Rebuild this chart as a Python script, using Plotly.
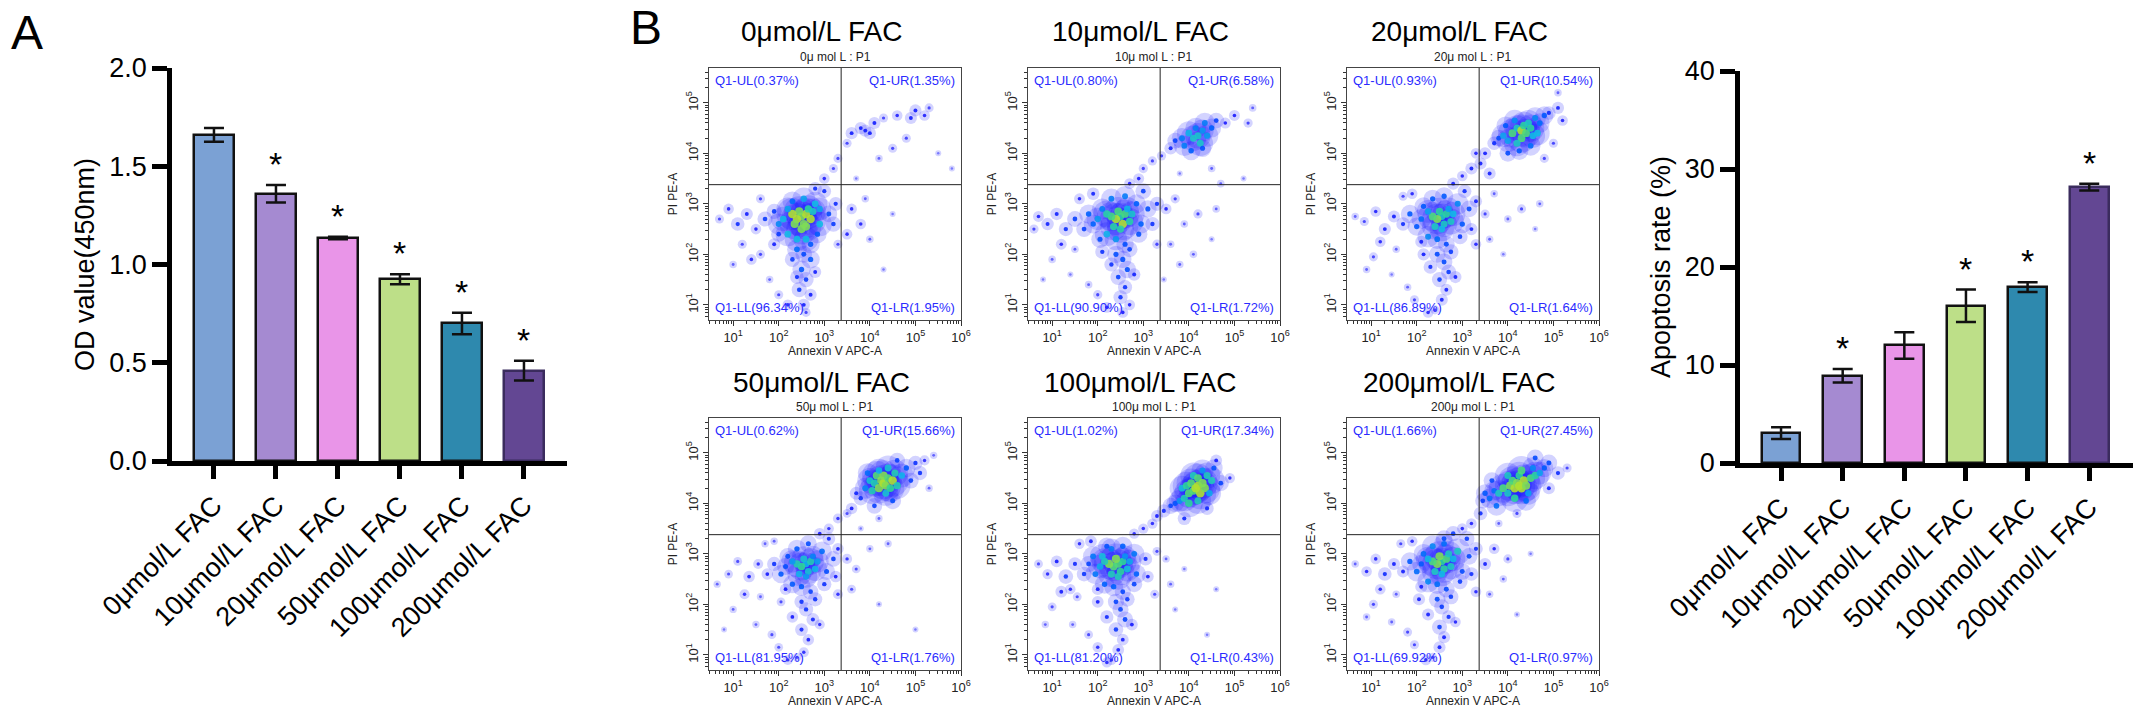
import numpy as np
import plotly.graph_objects as go

W, H = 2151, 710
FONT = "Arial, Liberation Sans, sans-serif"

# %% bar chart data
GROUPS = ["0μmol/L FAC", "10μmol/L FAC", "20μmol/L FAC",
          "50μmol/L FAC", "100μmol/L FAC", "200μmol/L FAC"]
OD_MEAN = [1.66, 1.36, 1.135, 0.925, 0.70, 0.46]
OD_ERR = [0.035, 0.045, 0.006, 0.026, 0.055, 0.05]
OD_SIG = [False, True, True, True, True, True]
APO_MEAN = [3.05, 8.9, 12.0, 16.05, 17.95, 28.15]
APO_ERR = [0.6, 0.68, 1.35, 1.65, 0.5, 0.35]
APO_SIG = [False, True, False, True, True, True]
BAR_COLORS = ["#7ba1d4", "#a58ad1", "#e995e8", "#bddf88", "#2e89ae", "#634793"]
BAR_EDGES = ["#111111", "#111111", "#111111", "#111111", "#111111", "#3b2c5e"]

# %% flow cytometry data (log10 Annexin V, log10 PI)
SUBTITLES = ["0μ mol L : P1", "10μ mol L : P1", "20μ mol L : P1",
             "50μ mol L : P1", "100μ mol L : P1", "200μ mol L : P1"]
Q_UL = ["0.37%", "0.80%", "0.93%", "0.62%", "1.02%", "1.66%"]
Q_UR = ["1.35%", "6.58%", "10.54%", "15.66%", "17.34%", "27.45%"]
Q_LL = ["96.34%", "90.90%", "86.89%", "81.95%", "81.20%", "69.92%"]
Q_LR = ["1.95%", "1.72%", "1.64%", "1.76%", "0.43%", "0.97%"]
GATE_X, GATE_Y = 3.37, 3.38

FLOW_0 = [
    (2.5, 2.75), (2.6, 2.8), (2.4, 2.7), (2.55, 2.6), (2.65, 2.9), (2.45, 2.85),
    (2.7, 2.7), (2.35, 2.6), (2.5, 2.5), (2.6, 2.55), (2.3, 2.8), (2.75, 2.85),
    (2.1, 2.7), (2.2, 2.9), (2.0, 2.6), (2.8, 3.0), (2.9, 2.6), (2.85, 2.4),
    (2.2, 2.4), (2.4, 2.3), (2.6, 2.3), (2.7, 2.2), (2.3, 3.05), (2.55, 3.1),
    (2.9, 2.9), (3.1, 2.8), (3.2, 2.6), (1.9, 2.85), (2.0, 2.4), (2.4, 2.1),
    (2.55, 2.0), (2.7, 1.9), (2.5, 1.7), (2.6, 1.5), (2.45, 1.3), (2.7, 1.2),
    (2.55, 1.0), (2.6, 0.85), (2.4, 1.55), (2.3, 1.9), (2.8, 1.65),
    (1.7, 2.7), (1.5, 2.5), (1.3, 2.8), (1.1, 2.6), (0.9, 2.9), (0.7, 2.7),
    (1.2, 2.2), (1.6, 2.0), (1.9, 2.2), (1.4, 1.9), (1.0, 1.8), (1.8, 1.5),
    (2.0, 1.2), (2.2, 1.0), (1.6, 3.1), (3.3, 2.2), (3.25, 3.0), (3.0, 3.25),
    (2.8, 3.3),
    (3.0, 3.5), (3.2, 3.7), (3.3, 3.9), (3.5, 4.2), (3.6, 4.4), (3.8, 4.5),
    (3.9, 4.45), (4.1, 4.6), (4.0, 4.4), (4.3, 4.7), (4.6, 4.75), (4.9, 4.7),
    (5.0, 4.85), (5.2, 4.75), (5.3, 4.9), (4.5, 4.1), (4.8, 4.3), (5.5, 4.0),
    (5.8, 3.7), (4.2, 3.9), (3.7, 3.5),
    (3.6, 2.9), (3.8, 2.6), (4.0, 2.3), (3.5, 2.4), (4.5, 2.8), (3.9, 3.1),
    (4.3, 1.7),
]
FLOW_10 = [
    (2.5, 2.75), (2.6, 2.8), (2.4, 2.7), (2.55, 2.6), (2.65, 2.9), (2.45, 2.85),
    (2.7, 2.65), (2.3, 2.75), (2.5, 2.5), (2.2, 2.8), (2.35, 2.55), (2.75, 2.8),
    (2.0, 2.7), (2.1, 2.9), (1.9, 2.6), (1.8, 2.8), (2.85, 3.0), (2.95, 2.6),
    (2.9, 2.4), (2.2, 2.4), (2.4, 2.3), (2.6, 2.2), (2.7, 2.1), (2.3, 3.1),
    (2.6, 3.15), (3.1, 2.9), (3.2, 2.6), (1.7, 2.5), (2.05, 2.3), (2.4, 2.0),
    (2.55, 1.9), (2.65, 1.7), (2.45, 1.55), (2.6, 1.35), (2.5, 1.15), (2.7, 1.0),
    (2.55, 0.85), (2.3, 1.8), (2.8, 1.6), (2.1, 2.05),
    (1.5, 2.7), (1.3, 2.5), (1.1, 2.8), (0.9, 2.6), (0.7, 2.75), (0.6, 2.5),
    (1.2, 2.2), (1.5, 2.1), (1.0, 1.9), (1.4, 1.6), (1.8, 1.4), (2.0, 1.2),
    (2.2, 0.95), (1.6, 3.1), (3.3, 2.2), (3.3, 3.0), (3.0, 3.25), (1.9, 3.2),
    (0.8, 1.5),
    (2.7, 3.4), (2.9, 3.5), (3.0, 3.7), (3.2, 3.85), (3.4, 3.95), (3.6, 4.1),
    (3.7, 4.25), (3.85, 4.3), (3.9, 4.15), (4.0, 4.4), (4.1, 4.3), (4.2, 4.35),
    (4.25, 4.2), (4.15, 4.5), (4.3, 4.45), (4.4, 4.35), (4.35, 4.6), (4.5, 4.5),
    (4.05, 4.05), (4.3, 4.1), (4.6, 4.65), (4.8, 4.6), (5.0, 4.75), (5.3, 4.6),
    (5.4, 4.9), (4.5, 3.7), (5.2, 3.5), (4.7, 3.4), (3.8, 3.6),
    (3.5, 2.9), (3.7, 3.1), (3.9, 2.6), (4.2, 2.8), (4.5, 2.3), (4.6, 2.9),
    (3.6, 2.2), (3.8, 1.8), (4.1, 2.0), (3.45, 1.5),
]
FLOW_20 = [
    (2.55, 2.75), (2.65, 2.8), (2.45, 2.7), (2.6, 2.6), (2.7, 2.9), (2.5, 2.85),
    (2.75, 2.65), (2.35, 2.75), (2.55, 2.5), (2.25, 2.85), (2.4, 2.55), (2.8, 2.8),
    (2.1, 2.7), (2.15, 2.95), (2.0, 2.55), (1.85, 2.8), (2.9, 3.0), (3.0, 2.6),
    (2.95, 2.35), (2.25, 2.35), (2.45, 2.3), (2.65, 2.2), (2.75, 2.05), (2.35, 3.1),
    (2.6, 3.15), (3.15, 2.9), (3.2, 2.5), (1.7, 2.6), (2.1, 2.25), (2.45, 2.0),
    (2.6, 1.85), (2.7, 1.65), (2.5, 1.5), (2.65, 1.3), (2.55, 1.1), (2.4, 0.9),
    (2.3, 1.75), (2.85, 1.55), (2.15, 2.0),
    (1.5, 2.75), (1.3, 2.5), (1.1, 2.85), (0.85, 2.65), (0.65, 2.75), (1.2, 2.25),
    (1.55, 2.1), (1.05, 1.95), (1.45, 1.6), (1.8, 1.35), (1.95, 1.1), (2.25, 0.85),
    (1.7, 3.15), (3.3, 2.2), (3.3, 3.05), (3.05, 3.25), (1.9, 3.2), (0.9, 1.7),
    (2.8, 3.4), (3.0, 3.55), (3.2, 3.7), (3.3, 4.0), (3.4, 3.8), (3.5, 4.0),
    (3.7, 4.2), (3.8, 4.3), (3.9, 4.35), (4.0, 4.25), (4.1, 4.4), (4.2, 4.5),
    (4.3, 4.45), (4.35, 4.55), (4.4, 4.4), (4.45, 4.6), (4.5, 4.5), (4.3, 4.3),
    (4.2, 4.2), (4.55, 4.35), (4.6, 4.7), (4.7, 4.6), (4.8, 4.75), (4.0, 4.0),
    (4.15, 4.65), (3.95, 4.55), (4.65, 4.4), (4.9, 4.8), (5.1, 4.9), (5.2, 4.65),
    (4.25, 4.05), (4.5, 4.15), (5.0, 4.2), (4.8, 3.9), (3.6, 3.6), (5.1, 5.2),
    (3.5, 2.8), (3.7, 3.2), (4.0, 2.7), (4.3, 2.9), (3.6, 2.3), (4.7, 3.0),
    (3.9, 2.0), (4.6, 2.5),
]
FLOW_50 = [
    (2.6, 2.8), (2.7, 2.85), (2.5, 2.75), (2.65, 2.65), (2.75, 2.95), (2.55, 2.9),
    (2.8, 2.7), (2.4, 2.8), (2.6, 2.55), (2.3, 2.85), (2.45, 2.6), (2.85, 2.85),
    (2.15, 2.75), (2.2, 2.95), (2.05, 2.6), (1.9, 2.8), (2.95, 3.05), (3.05, 2.65),
    (3.0, 2.4), (2.3, 2.4), (2.5, 2.35), (2.7, 2.25), (2.8, 2.1), (2.4, 3.1),
    (2.65, 3.2), (3.2, 2.9), (3.25, 2.55), (1.75, 2.6), (2.15, 2.3), (2.5, 2.05),
    (2.6, 1.9), (2.75, 1.7), (2.5, 1.5), (2.65, 1.3), (2.55, 1.05), (2.4, 0.95),
    (2.3, 1.75), (2.9, 1.6), (2.05, 2.05),
    (1.55, 2.8), (1.35, 2.55), (1.1, 2.85), (0.9, 2.6), (0.65, 2.4), (1.25, 2.2),
    (1.6, 2.15), (1.0, 1.9), (1.5, 1.6), (1.85, 1.4), (2.0, 1.15), (2.2, 0.9),
    (1.7, 3.2), (3.3, 2.2), (3.3, 3.1), (3.1, 3.3), (1.9, 3.25), (0.8, 1.5),
    (2.9, 3.4), (3.1, 3.5), (3.3, 3.7), (3.5, 3.8), (3.6, 3.9), (3.7, 4.2),
    (3.8, 4.1), (3.9, 4.3), (4.0, 4.45), (4.05, 4.25), (4.1, 4.4), (4.15, 4.55),
    (4.2, 4.3), (4.25, 4.45), (4.3, 4.4), (4.3, 4.55), (4.35, 4.35), (4.35, 4.2),
    (4.4, 4.5), (4.45, 4.3), (4.5, 4.45), (4.2, 4.65), (4.4, 4.7), (4.55, 4.6),
    (4.6, 4.35), (4.7, 4.55), (4.8, 4.7), (5.0, 4.8), (5.2, 4.85), (5.4, 4.95),
    (5.1, 4.6), (4.9, 4.45), (4.1, 3.95), (4.5, 4.05), (3.95, 4.6), (4.6, 4.85),
    (5.3, 4.3), (4.2, 3.7), (3.8, 3.5),
    (3.5, 2.9), (3.7, 2.7), (4.0, 3.1), (4.4, 3.2), (3.6, 2.3), (4.2, 2.0),
    (5.0, 1.5),
]
FLOW_100 = [
    (2.45, 2.8), (2.55, 2.85), (2.35, 2.75), (2.5, 2.65), (2.6, 2.95), (2.4, 2.9),
    (2.65, 2.7), (2.25, 2.8), (2.45, 2.55), (2.15, 2.85), (2.3, 2.6), (2.7, 2.85),
    (2.05, 2.75), (2.1, 2.95), (1.95, 2.6), (1.8, 2.8), (2.8, 3.0), (2.85, 2.6),
    (2.8, 2.4), (2.15, 2.4), (2.35, 2.35), (2.55, 2.25), (2.65, 2.1), (2.3, 3.1),
    (2.55, 3.15), (3.05, 2.9), (3.1, 2.55), (1.7, 2.6), (2.0, 2.3), (2.4, 2.05),
    (2.5, 1.9), (2.6, 1.7), (2.4, 1.5), (2.55, 1.3), (2.45, 1.1), (2.3, 0.9),
    (2.2, 1.75), (2.75, 1.6), (2.0, 2.05), (1.9, 2.95), (2.2, 3.15),
    (1.5, 2.8), (1.3, 2.55), (1.1, 2.85), (0.9, 2.6), (0.7, 2.8), (1.2, 2.25),
    (1.55, 2.15), (1.0, 1.95), (1.45, 1.6), (1.8, 1.4), (2.0, 1.15), (2.2, 0.85),
    (1.6, 3.2), (3.25, 2.2), (3.3, 3.05), (1.85, 3.25), (0.85, 1.6), (1.4, 2.3),
    (2.8, 3.4), (3.0, 3.5), (3.2, 3.6), (3.3, 3.75), (3.45, 3.85), (3.6, 3.95),
    (3.7, 4.0), (3.8, 4.05), (3.85, 4.3), (3.9, 4.1), (3.95, 4.35), (4.0, 4.2),
    (4.0, 4.0), (4.05, 4.4), (4.1, 4.25), (4.1, 4.55), (4.15, 4.3), (4.2, 4.35),
    (4.2, 4.5), (4.2, 4.05), (4.25, 4.2), (4.3, 4.4), (4.3, 4.65), (4.35, 4.3),
    (4.4, 4.55), (4.45, 4.2), (4.5, 4.45), (4.55, 4.7), (4.6, 4.85), (4.7, 4.4),
    (4.9, 4.5), (3.9, 3.7), (4.4, 3.9),
    (3.5, 2.9), (3.6, 2.4), (3.9, 2.7), (4.6, 2.3), (3.7, 1.9), (4.4, 1.4),
]
FLOW_200 = [
    (2.55, 2.85), (2.65, 2.9), (2.45, 2.8), (2.6, 2.7), (2.7, 3.0), (2.5, 2.95),
    (2.75, 2.75), (2.35, 2.85), (2.55, 2.6), (2.25, 2.9), (2.4, 2.65), (2.8, 2.9),
    (2.1, 2.8), (2.15, 3.0), (2.0, 2.65), (1.85, 2.85), (2.9, 3.05), (3.0, 2.65),
    (2.95, 2.45), (2.25, 2.45), (2.45, 2.4), (2.65, 2.3), (2.75, 2.15), (2.35, 3.15),
    (2.6, 3.2), (3.15, 2.95), (3.2, 2.6), (1.7, 2.65), (2.1, 2.35), (2.45, 2.1),
    (2.55, 1.95), (2.7, 1.75), (2.5, 1.55), (2.6, 1.35), (2.5, 1.15), (2.35, 0.95),
    (2.25, 1.8), (2.85, 1.65), (2.05, 2.1),
    (1.5, 2.8), (1.3, 2.6), (1.1, 2.9), (0.9, 2.65), (0.65, 2.8), (1.2, 2.3),
    (1.55, 2.2), (1.05, 2.0), (1.45, 1.65), (1.8, 1.45), (1.95, 1.2), (2.2, 0.9),
    (1.65, 3.2), (3.3, 2.25), (3.3, 3.1), (3.1, 3.3), (1.9, 3.25), (0.9, 1.75),
    (2.6, 3.3), (2.8, 3.4), (3.0, 3.5), (3.2, 3.6), (3.4, 3.8), (3.45, 4.05),
    (3.5, 4.2), (3.6, 4.1), (3.7, 4.25), (3.75, 3.95), (3.8, 4.2), (3.9, 4.3),
    (4.0, 4.2), (4.05, 4.35), (4.1, 4.45), (4.15, 4.3), (4.15, 4.1), (4.2, 4.4),
    (4.25, 4.35), (4.25, 4.55), (4.3, 4.3), (4.3, 4.65), (4.35, 4.45), (4.4, 4.35),
    (4.4, 4.05), (4.45, 4.2), (4.5, 4.5), (4.55, 4.7), (4.6, 4.55), (4.6, 4.9),
    (4.7, 4.6), (4.8, 4.7), (4.9, 4.8), (4.9, 4.3), (5.1, 4.6), (5.3, 4.7),
    (4.2, 3.8), (3.8, 3.6), (4.0, 4.55), (3.65, 4.45),
    (3.5, 2.8), (3.7, 3.1), (4.0, 2.9), (3.6, 2.2), (4.5, 3.0), (3.9, 2.5),
    (4.2, 1.8),
]
FLOWS = [FLOW_0, FLOW_10, FLOW_20, FLOW_50, FLOW_100, FLOW_200]

X_RANGE = [0.47, 6.0]
Y_RANGE = [0.70, 5.69]

DENSITY_SCALE = [[0.0, "#7070ff"], [0.2, "#1414ff"], [0.5, "#0060ff"],
                 [0.7, "#10b8e8"], [0.85, "#30d890"], [1.0, "#b0e030"]]


def dom(l, r, t, b):
    return [l / W, r / W], [1 - b / H, 1 - t / H]


def density(pts):
    a = np.array(pts)
    d = np.hypot(a[:, None, 0] - a[None, :, 0], a[:, None, 1] - a[None, :, 1])
    return (d < 0.42).sum(axis=1) - 1


fig = go.Figure()
annotations = []
shapes = []

# %% panel A and the apoptosis bar chart
bar_axes = [
    ("x", "y", OD_MEAN, OD_ERR, OD_SIG, dom(172, 567, 68, 461), [-0.677, 5.694],
     [0, 2.0], 0.5, "OD value(450nm)"),
    ("x2", "y2", APO_MEAN, APO_ERR, APO_SIG, dom(1740, 2133, 71, 463), [-0.666, 5.71],
     [0, 40], 10, "Apoptosis rate (%)"),
]
for xa, ya, mean, err, sig, (xd, yd), xr, yr, dt, ytitle in bar_axes:
    fig.add_trace(go.Bar(
        x=list(range(len(GROUPS))), y=mean, width=0.63, xaxis=xa, yaxis=ya,
        marker=dict(color=BAR_COLORS, line=dict(color=BAR_EDGES, width=2.5)),
        error_y=dict(type="data", array=err, color="#111111", thickness=2.5, width=10),
        showlegend=False,
    ))
    for i, s in enumerate(sig):
        if s:
            annotations.append(dict(
                x=i, y=mean[i] + err[i], xref=xa, yref=ya, text="*", showarrow=False,
                yanchor="middle", yshift=21, font=dict(size=34, color="black", family=FONT),
            ))
    axkey = "xaxis" if xa == "x" else "xaxis2"
    aykey = "yaxis" if ya == "y" else "yaxis2"
    fig.layout[axkey] = dict(
        domain=xd, range=xr, anchor=ya, tickvals=list(range(len(GROUPS))), ticktext=GROUPS,
        tickangle=-45, ticks="outside", ticklen=13, tickwidth=4.5, tickcolor="black",
        showline=True, linewidth=4.5, linecolor="black", showgrid=False, zeroline=False,
        tickfont=dict(size=27, color="black", family=FONT), automargin=False,
    )
    fig.layout[aykey] = dict(
        domain=yd, range=yr, anchor=xa, dtick=dt, tickformat=".1f" if dt < 1 else "d",
        ticks="outside", ticklen=15, tickwidth=4.5, tickcolor="black",
        showline=True, linewidth=4.5, linecolor="black", showgrid=False, zeroline=False,
        tickfont=dict(size=27, color="black", family=FONT), automargin=False,
        title=dict(text=ytitle, standoff=8, font=dict(size=27, color="black", family=FONT)),
    )

# %% flow cytometry dot plots
minor_x = [n + np.log10(k) for n in range(0, 6) for k in range(2, 10)
           if X_RANGE[0] < n + np.log10(k) < X_RANGE[1]]
minor_y = [n + np.log10(k) for n in range(0, 6) for k in range(2, 10)
           if Y_RANGE[0] < n + np.log10(k) < Y_RANGE[1]]
lefts = [709, 1028, 1347]
tops = [68, 418]
for p, pts in enumerate(FLOWS):
    n = p + 3
    xa, ya = f"x{n}", f"y{n}"
    l = lefts[p % 3]
    t = tops[p // 3]
    xd, yd = dom(l, l + 252, t, t + 252)
    xs = [q[0] for q in pts]
    ys = [q[1] for q in pts]
    dens = density(pts)
    rel = dens / dens.max()
    fig.add_trace(go.Scatter(
        x=xs, y=ys, mode="markers", xaxis=xa, yaxis=ya, showlegend=False,
        marker=dict(size=6 + 26 * rel, color="#0a0aff", opacity=0.18, line=dict(width=0)),
        hoverinfo="skip",
    ))
    fig.add_trace(go.Scatter(
        x=xs, y=ys, mode="markers", xaxis=xa, yaxis=ya, showlegend=False,
        marker=dict(size=2.5 + 6 * rel, color=dens, colorscale=DENSITY_SCALE, cmin=0,
                    cmax=dens.max(), opacity=0.9, line=dict(width=0)),
    ))
    fig.layout[f"xaxis{n}"] = dict(
        domain=xd, range=X_RANGE, anchor=ya, tickvals=[1, 2, 3, 4, 5, 6],
        ticktext=[f"10<sup>{k}</sup>" for k in range(1, 7)],
        ticks="outside", ticklen=5, tickwidth=1, tickcolor="#333",
        minor=dict(tickvals=minor_x, ticks="outside", ticklen=3, tickwidth=1, tickcolor="#333"),
        showline=True, mirror=True, linewidth=1, linecolor="#444",
        showgrid=False, zeroline=False, automargin=False,
        tickfont=dict(size=13, color="#222", family=FONT),
    )
    fig.layout[f"yaxis{n}"] = dict(
        domain=yd, range=Y_RANGE, anchor=xa, tickvals=[1, 2, 3, 4, 5],
        ticktext=[f"10<sup>{k}</sup>" for k in range(1, 6)], tickangle=-90,
        ticks="outside", ticklen=5, tickwidth=1, tickcolor="#333",
        minor=dict(tickvals=minor_y, ticks="outside", ticklen=3, tickwidth=1, tickcolor="#333"),
        showline=True, mirror=True, linewidth=1, linecolor="#444",
        showgrid=False, zeroline=False, automargin=False,
        tickfont=dict(size=13, color="#222", family=FONT),
        title=dict(text="PI PE-A", standoff=4, font=dict(size=12, color="#222", family=FONT)),
    )
    shapes.append(dict(type="line", xref=xa, yref=f"{ya} domain", x0=GATE_X, x1=GATE_X,
                       y0=0, y1=1, line=dict(color="#222", width=1)))
    shapes.append(dict(type="line", xref=f"{xa} domain", yref=ya, x0=0, x1=1,
                       y0=GATE_Y, y1=GATE_Y, line=dict(color="#222", width=1)))
    qfont = dict(size=13, color="#2b2bff", family=FONT)
    for txt, qx, qy, xan in [
        (f"Q1-UL({Q_UL[p]})", 0.015, 0.95, "left"),
        (f"Q1-UR({Q_UR[p]})", 0.985, 0.95, "right"),
        (f"Q1-LL({Q_LL[p]})", 0.015, 0.05, "left"),
        (f"Q1-LR({Q_LR[p]})", 0.985, 0.05, "right"),
    ]:
        annotations.append(dict(text=txt, x=qx, y=qy, xref=f"{xa} domain", yref=f"{ya} domain",
                                xanchor=xan, yanchor="middle", showarrow=False, font=qfont))
    annotations.append(dict(text=GROUPS[p], x=0.5, y=1, xref=f"{xa} domain", yref=f"{ya} domain",
                            xshift=-14, yshift=36, showarrow=False, yanchor="middle",
                            font=dict(size=28, color="black", family=FONT)))
    annotations.append(dict(text=SUBTITLES[p], x=0.5, y=1, xref=f"{xa} domain",
                            yref=f"{ya} domain", yshift=11, showarrow=False, yanchor="middle",
                            font=dict(size=12, color="#222", family=FONT)))
    annotations.append(dict(text="Annexin V APC-A", x=0.5, y=0, xref=f"{xa} domain",
                            yref=f"{ya} domain", yshift=-31, showarrow=False, yanchor="middle",
                            font=dict(size=12, color="#222", family=FONT)))

for letter, px_x, px_y in [("A", 27, 32), ("B", 646, 28)]:
    annotations.append(dict(text=letter, x=px_x / W, y=1 - px_y / H, xref="paper", yref="paper",
                            showarrow=False, xanchor="center", yanchor="middle",
                            font=dict(size=48, color="black", family=FONT)))

fig.update_layout(
    width=W, height=H, autosize=False, margin=dict(l=0, r=0, t=0, b=0, autoexpand=False),
    paper_bgcolor="white", plot_bgcolor="white",
    font=dict(family=FONT, color="black"),
    annotations=annotations, shapes=shapes, bargap=0,
)

# the page's default body margin would shift the figure by 8 px
fig.write_html("out.html", config={"displayModeBar": False},
               post_script="document.body.style.margin = '0px';")
